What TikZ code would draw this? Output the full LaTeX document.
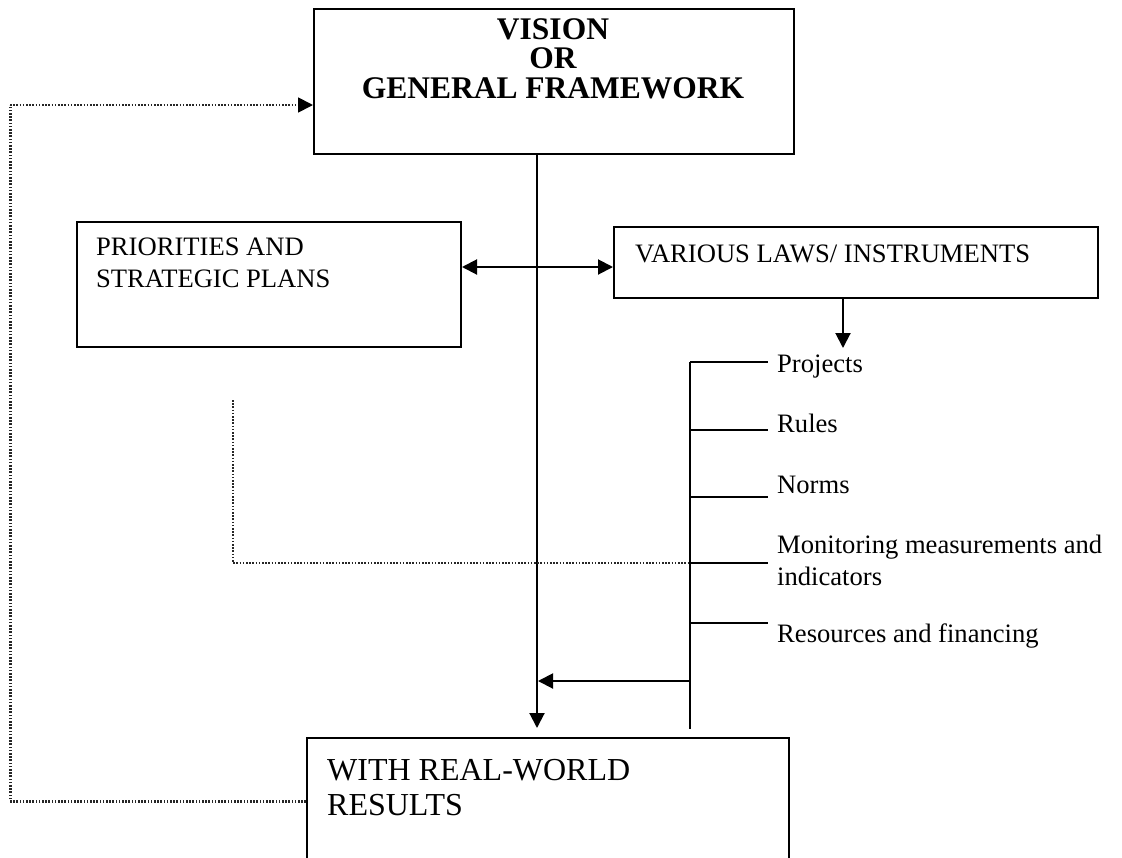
\documentclass[tikz,border=0pt]{standalone}
\usepackage{fontspec}
\setmainfont{Liberation Serif}
\usetikzlibrary{arrows.meta}
\begin{document}
\begin{tikzpicture}[x=1pt,y=-1pt,
  box/.style={draw,line width=2pt,rectangle,inner sep=0pt},
  conn/.style={line width=2pt},
  tip/.style={-{Triangle[length=15pt,width=15pt]}},
  dots/.style={line width=1.8pt,dash pattern=on 1.6pt off 1.6pt,black!85},
  small/.style={font=\fontsize{26.6}{32}\selectfont,inner sep=0pt,anchor=base west,align=left},
  big/.style={font=\fontsize{32}{36}\selectfont,inner sep=0pt,anchor=base west,align=left},
  bold/.style={font=\fontsize{31.5}{32}\selectfont\bfseries,inner sep=0pt,anchor=base,align=center}
]
\useasboundingbox (0,0) rectangle (1122,857);
% boxes
\node[box,minimum width=480pt,minimum height=145pt,anchor=north west] (vision) at (313,8) {};
\node[box,minimum width=384pt,minimum height=125pt,anchor=north west] (prio) at (76,221) {};
\node[box,minimum width=484pt,minimum height=71pt,anchor=north west] (laws) at (613,226) {};
\node[box,minimum width=482pt,minimum height=125pt,anchor=north west] (result) at (306,737) {};
% texts
\node[bold] (t1) at (553,39) {VISION};
\node[bold] (t2) at (553,68.5) {OR};
\node[bold] (t3) at (553,98) {GENERAL FRAMEWORK};
\node[small] (tp1) at (96,255) {PRIORITIES AND};
\node[small] (tp2) at (96,287) {STRATEGIC PLANS};
\node[small] (tl) at (635,262) {VARIOUS LAWS/ INSTRUMENTS};
\node[small] (i1) at (777,372) {Projects};
\node[small] (i2) at (777,432) {Rules};
\node[small] (i3) at (777,493) {Norms};
\node[small] (i4) at (777,553) {Monitoring measurements and};
\node[small] (i4b) at (777,585) {indicators};
\node[small] (i5) at (777,642) {Resources and financing};
\node[big] (tr1) at (327,780) {WITH REAL-WORLD};
\node[big] (tr2) at (327,815) {RESULTS};
% coordinates
\coordinate (mx) at (537,0);
\coordinate (dy) at (0,267);
\coordinate (lx) at (843,0);
\coordinate (lend) at (843,348);
\coordinate (btop) at (690,362);
\coordinate (bbot) at (690,729);
\coordinate (mend) at (537,728);
\coordinate (b1) at (690,362); \coordinate (e1) at (768,362);
\coordinate (b2) at (690,430); \coordinate (e2) at (768,430);
\coordinate (b3) at (690,497); \coordinate (e3) at (768,497);
\coordinate (b4) at (690,563); \coordinate (e4) at (768,563);
\coordinate (b5) at (690,623); \coordinate (e5) at (768,623);
\coordinate (aleft) at (690,681);
\coordinate (aend) at (538,681);
\coordinate (d1) at (233,400);
\coordinate (fl) at (10,105);
\coordinate (fy) at (0,801);
% connectors
\draw[conn,tip] (vision.south -| mx) -- (mend);
\draw[conn,{Triangle[length=15pt,width=15pt]}-{Triangle[length=15pt,width=15pt]}] (prio.east |- dy) -- (laws.west |- dy);
\draw[conn,tip] (laws.south -| lx) -- (lend);
\draw[conn] (btop) -- (bbot);
\draw[conn] (b1) -- (e1);
\draw[conn] (b2) -- (e2);
\draw[conn] (b3) -- (e3);
\draw[conn] (b4) -- (e4);
\draw[conn] (b5) -- (e5);
\draw[conn,tip] (aleft) -- (aend);
\draw[dots] (d1) |- (b4);
\draw[dots,line width=3pt] (result.west |- fy) -| (fl);
\draw[dots,-{Triangle[length=15pt,width=15pt,color=black]}] (fl) -- (vision.west |- fl);
\end{tikzpicture}
\end{document}
